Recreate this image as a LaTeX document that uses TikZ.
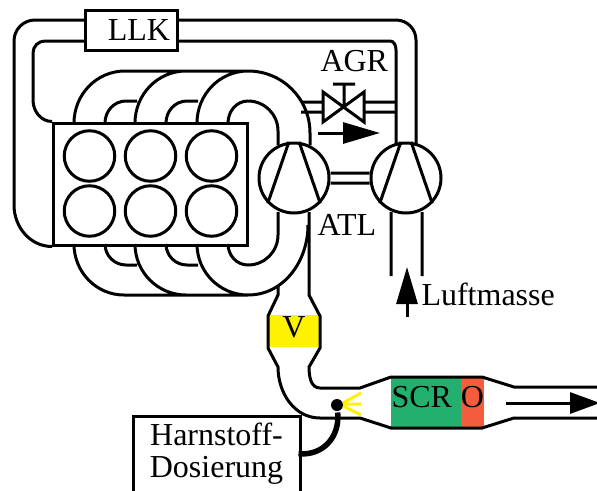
\documentclass[tikz,border=0pt]{standalone}
\usepackage{fontspec}
\setmainfont{Liberation Serif}
\usetikzlibrary{arrows.meta,positioning}
\definecolor{scrgreen}{RGB}{35,176,110}
\definecolor{oxired}{RGB}{243,92,60}
\tikzset{
plant/.style={x=1pt,y=-1pt,line width=3pt,font=\fontsize{32}{32}\selectfont},
pipe/.style={draw,line cap=butt},
box/.style={rectangle,draw,inner sep=0pt},
cylinder/.style={circle,draw,minimum size=50.5pt,inner sep=0pt},
charger/.style={circle,draw,minimum size=70pt,inner sep=0pt},
catalyst/.style={rectangle,inner sep=0pt,minimum height=51pt,text height=21pt},
flow/.style={-{Triangle[length=#1,width=21pt]}},
flow/.default={37pt},
tag/.style={inner sep=0pt,anchor=base west},
}
\begin{document}
\begin{tikzpicture}[plant]
    \useasboundingbox (0,0) rectangle (597,490);
    \clip (0,0) rectangle (597,490);

    \node[box] (llk) [minimum width=92pt,minimum height=40pt,text width=78pt,inner xsep=7pt,align=right] at (131,30) {LLK};
    \node[box] (engine) [minimum width=194pt,minimum height=122pt] at (150.6,184) {};

    \node[cylinder] (cyl1) at (89.5,156) {};
    \node[cylinder] (cyl2) [right=7.5pt of cyl1] {};
    \node[cylinder] (cyl3) [right=7.5pt of cyl2] {};
    \node[cylinder] (cyl4) [below=1.5pt of cyl1] {};
    \node[cylinder] (cyl5) [right=7.5pt of cyl4] {};
    \node[cylinder] (cyl6) [right=7.5pt of cyl5] {};

    \node[charger] (turbine) at (294,178) {};
    \node[charger] (compressor) at (406,178) {};
    \node[tag] (atl) at (316,235) {ATL};
    \node[tag] (agr) at (319,71) {AGR};
    \node[tag] (luft) at (420,305) {Luftmasse};

    \node[rectangle,fill=yellow,inner sep=0pt,minimum width=52pt,minimum height=32pt,text height=21pt,text depth=9pt] (vtg) at (294,331) {V};
    \node[catalyst,fill=scrgreen,minimum width=70pt,text width=69pt,text depth=12pt,align=left] (scr) at (426,402.5) {SCR};
    \node[catalyst,fill=oxired,minimum width=23pt,text depth=12pt] (oxi) at (472.5,402.5) {O};
    \node[box,minimum width=167pt,minimum height=76pt,align=center] (harn) at (216.5,454) {Harnstoff-\\Dosierung};

    % charge air
    \path[pipe]
        (85,20) -- (35,20) to[out=180,in=90] (14,41) -- (14,205) to[out=-90,in=180] (engine.south west)
        (85,41) -- (45,41) to[out=180,in=90] (33,53) -- (33,100) to[out=-90,in=180] (engine.north west)
        (177,20) -- (396,20) to[out=0,in=90] (416,40) -- (416,145)
        (177,41) -- (390,41) to[out=0,in=90] (396,50) -- (396,145)
    ;
    % manifolds
    \path[pipe]
        (74,123) to[out=90,in=180] (125,71) -- (248,71) to[out=0,in=90] (310,133) -- (310,145)
        (135,123) to[out=90,in=180] (186,71)
        (197,123) to[out=90,in=180] (248,71)
        (105,123) to[out=90,in=180] (126,101) -- (137,101)
        (166,123) to[out=90,in=180] (187,101) -- (198,101)
        (228,123) to[out=90,in=180] (248,101) to[out=0,in=90] (278,131) -- (278,145)
        (74,244) to[out=-90,in=180] (124,295) -- (248,295) to[out=0,in=-90] (308,225)
        (135,244) to[out=-90,in=180] (186,295)
        (197,244) to[out=-90,in=180] (248,295)
        (105,244) to[out=-90,in=180] (126,265) -- (137,265)
        (166,244) to[out=-90,in=180] (187,265) -- (198,265)
        (228,244) to[out=-90,in=180] (248,265) to[out=0,in=-90] (278,235) -- (278,212)
    ;
    % egr
    \path[pipe]
        (301,102) -- (323,102)
        (301,112) -- (323,112)
        (364,102) -- (396,102)
        (364,112) -- (396,112)
        (323,92) -- (364,122) -- (364,92) -- (323,122) -- cycle
        (344,107) -- (344,84)
        (333,84) -- (355,84)
    ;
    % shaft and inlet
    \path[pipe]
        (turbine.east |- 0,173) -- (compressor.west |- 0,173)
        (turbine.east |- 0,183) -- (compressor.west |- 0,183)
        (391,212) -- (391,276)
        (422,212) -- (422,276)
        (turbine.98) -- (turbine.224)
        (turbine.82) -- (turbine.316)
        (compressor.98) -- (compressor.224)
        (compressor.82) -- (compressor.316)
    ;
    % exhaust
    \path[pipe]
        (309,212) -- (309,295) -- (320,316) -- (320,348) -- (309,367)
            to[out=-90,in=180] (320,388) -- (360,388) -- (391,377) -- (482,377) -- (514,387) -- (597,387)
        (278,285) -- (278,295) -- (268,316) -- (268,348) -- (278,367)
            to[out=-90,in=180] (320,418) -- (360,418) -- (391,428) -- (482,428) -- (514,418) -- (597,418)
    ;

    \node[circle,fill=black,minimum size=12pt,inner sep=0pt] (nozzle) at (337,405) {};
    \draw[yellow] (343,403) -- (361,393) (343,404) -- (361,404) (343,406) -- (361,415);
    \draw[line width=5.5pt,shorten <=-3pt] (harn.east) .. controls (322,456) and (340,438) .. (nozzle);

    \coordinate (egrfrom) at (318,133);
    \coordinate (egrto) at (380,133);
    \coordinate (airfrom) at (407,317);
    \coordinate (airto) at (407,267);
    \coordinate (gasfrom) at (506,403);
    \coordinate (gasto) at (600,403);
    \draw[flow] (egrfrom) -- (egrto);
    \draw[flow] (airfrom) -- (airto);
    \draw[flow=30pt] (gasfrom) -- (gasto);
\end{tikzpicture}
\end{document}
